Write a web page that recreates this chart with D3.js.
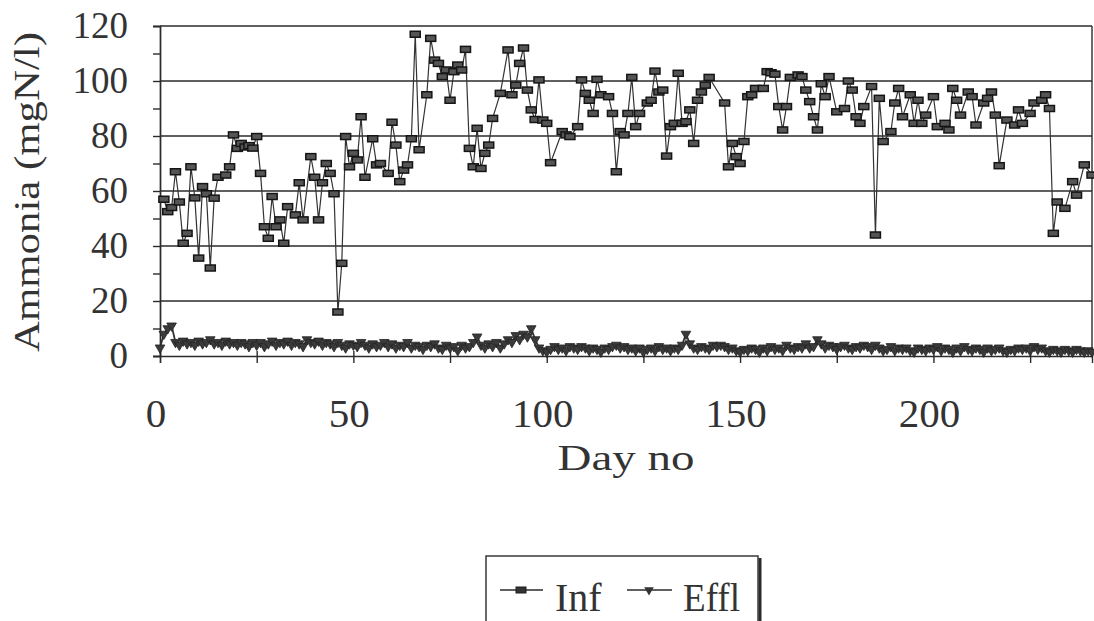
<!DOCTYPE html>
<html>
<head>
<meta charset="utf-8">
<script src="https://cdn.jsdelivr.net/npm/d3@7"></script>
<style>
  body { margin: 0; background: #fff; }
  svg { display: block; }
  text { font-family: "Liberation Serif", "Times New Roman", serif; fill: #333; }
</style>
</head>
<body>
<svg id="chart" width="1094" height="621"></svg>
<script>
// Influent ammonia (day, mgN/l)
const infDay = [1, 2, 3, 4, 5, 6, 7, 8, 9, 10, 11, 12, 13, 14, 15, 17, 18, 19, 20, 21, 22, 23, 24, 25,
  26, 27, 28, 29, 30, 31, 32, 33, 35, 36, 37, 39, 40, 41, 42, 43, 44, 45, 46, 47, 48, 49, 50, 51, 52,
  53, 55, 56, 57, 59, 60, 61, 62, 63, 64, 65, 66, 67, 69, 70, 71, 72, 73, 74, 75, 76, 77, 78, 79, 80,
  81, 82, 83, 84, 85, 86, 88, 90, 91, 92, 93, 94, 95, 96, 97, 98, 99, 100, 101, 104, 105, 106, 108,
  109, 110, 111, 112, 113, 114, 116, 117, 118, 119, 120, 121, 122, 123, 124, 126, 127, 128, 129, 130,
  131, 132, 133, 134, 135, 136, 137, 138, 139, 140, 141, 142, 146, 147, 148, 149, 150, 151, 152, 153,
  154, 156, 157, 158, 159, 160, 161, 162, 163, 165, 166, 167, 168, 169, 170, 171, 172, 173, 175, 177,
  178, 179, 180, 181, 182, 184, 185, 186, 187, 189, 190, 191, 192, 194, 195, 196, 197, 198, 200, 201,
  203, 204, 205, 206, 207, 209, 210, 211, 213, 214, 215, 216, 217, 219, 221, 222, 223, 225, 226, 228,
  229, 230, 231, 232, 234, 236, 237, 239, 241];
const infVal = [57, 52.5, 54, 67, 56, 41, 44.6, 68.8, 57.5, 35.6, 61.6, 59, 32, 57.4, 65, 65.8, 68.8, 80.4,
  75.5, 77.3, 76, 76.5, 75.6, 79.8, 66.4, 47, 42.8, 58, 47, 49.5, 41, 54.3, 51.3, 63, 49.5, 72.5, 65,
  49.5, 63, 70, 66.4, 59, 16, 33.7, 79.8, 68.8, 73.7, 71.3, 87, 65, 79, 69.5, 70, 66.4, 85, 76.7, 63.4,
  67.6, 69.5, 79, 117, 75, 95, 115.5, 107.6, 106.4, 101.6, 104, 93, 103.4, 105.8, 104, 111.5, 75.5,
  68.8, 82.8, 68.2, 73.7, 76.7, 86.4, 95.5, 111.3, 95, 98.5, 106.4, 112, 96.7, 89.5, 86, 100.4, 85.8,
  84.6, 70.3, 81.6, 80.4, 79.8, 83.4, 100.4, 95.5, 93, 88.2, 100.6, 95, 94.3, 88.2, 67, 81.6, 80.4,
  88.2, 101.3, 83.4, 88.2, 92, 93, 103.6, 96, 96.7, 72.7, 83.4, 84.6, 102.8, 84.6, 85.2, 89.5, 77.3, 93,
  96, 98.5, 101.3, 92, 68.8, 77.3, 72.5, 70, 78, 94.3, 95, 97.3, 97.3, 103.4, 103, 102.5, 90.7, 82.2,
  90.7, 101.3, 102.2, 101.6, 96.7, 92.5, 87, 82.2, 99, 94.3, 101.6, 88.8, 90, 100, 96.7, 87, 84.6, 90.7,
  98, 44, 93.7, 78, 81.6, 92, 97.3, 87, 95, 84.6, 93, 84.6, 87.6, 94.3, 83.4, 84.6, 82.2, 97.3, 93, 87.6,
  96, 94.3, 84, 92, 93.7, 96, 87.6, 69.2, 85.8, 84, 89.5, 84.6, 88.2, 92, 93, 95, 90, 44.6, 56, 53.7,
  63.4, 58.5, 69.5, 65.8, 64];

// Effluent ammonia, one reading per day from day 0 to day 241 (mgN/l)
const efflVal = [
  3, 8, 10, 11, 5, 4, 5.5, 4.5, 5, 4,
  5.5, 4.5, 5, 6, 4.5, 5, 4, 5.5, 4.5, 5,
  4, 5, 4.5, 3.5, 5, 4, 5, 3.5, 4.5, 5.5,
  4, 5, 4.5, 5.5, 4, 5, 4.5, 3.5, 6, 5,
  4.5, 5.5, 4, 5, 4.5, 3.5, 5, 4, 3, 4.5,
  4, 3.5, 5, 4, 3, 4.5, 3.5, 4, 5, 3.5,
  4.5, 3, 4, 3.5, 5, 3, 4, 3.5, 2.5, 4,
  3.5, 4.5, 3, 2.5, 4, 3, 3.5, 2, 4, 3,
  3.5, 5, 7, 4, 3, 4.5, 3.5, 5, 3, 4.5,
  6, 5, 7.5, 6, 8, 7, 10, 6, 3, 2,
  1.5, 2.5, 3.5, 2.5, 3, 2, 3.5, 3, 2.5, 3.5,
  3, 2, 3, 2.5, 1.5, 3, 2.5, 3.5, 4, 3,
  3.5, 2.5, 3, 2, 3, 1.5, 2.5, 3, 2, 3.5,
  2.5, 3, 2, 3, 2.5, 4, 8, 4.5, 3, 2.5,
  3.5, 3, 2.5, 4, 3.5, 4, 3.5, 2.5, 3, 2,
  1.5, 2.5, 2, 3, 2.5, 1.5, 3, 2, 3.5, 2.5,
  3, 2, 4, 3, 2.5, 3.5, 3, 4.5, 3, 3.5,
  6, 4.5, 3, 4, 3.5, 2.5, 3.5, 4, 3, 2.5,
  3.5, 3, 4, 3.5, 2.5, 4, 3, 2, 2.5, 3.5,
  2, 3, 2.5, 3, 2, 1.5, 3, 2.5, 2, 3,
  2.5, 3.5, 2, 3, 2.5, 1.5, 3, 2, 3.5, 2.5,
  2, 3, 2.5, 1.5, 3, 2, 2.5, 3, 2, 1.5,
  2.5, 2, 3, 2.5, 3, 2, 3.5, 2.5, 3, 2,
  1.5, 2.5, 2, 1.5, 2.5, 2, 1.5, 2.5, 2, 1.5,
  2, 1.5];
const efflDay = d3.range(0, efflVal.length);

const yTicks = [0, 20, 40, 60, 80, 100, 120];
const yMinor = [10, 30, 50, 70, 90, 110];
const xTicks = [0, 50, 100, 150, 200];
const xMinor = [25, 75, 125, 175, 225];

const inf = infDay.map((d, i) => ({ day: d, v: infVal[i] }));
const effl = efflDay.map((d, i) => ({ day: d, v: efflVal[i] }));

const svg = d3.select("#chart");
const plotL = 160, plotR = 1092, plotT = 26, plotB = 356;
const x = d3.scaleLinear().domain([0, 241]).range([plotL, plotR]);
const y = d3.scaleLinear().domain([0, 120]).range([plotB, plotT]);
const ink = "#2b2b2b";

// gridlines
svg.append("g").selectAll("line")
  .data(yTicks.slice(1))
  .join("line")
  .attr("x1", plotL).attr("x2", plotR)
  .attr("y1", d => y(d)).attr("y2", d => y(d))
  .attr("stroke", ink).attr("stroke-width", 1.4);

// right border
svg.append("line")
  .attr("x1", plotR).attr("x2", plotR).attr("y1", plotT).attr("y2", plotB)
  .attr("stroke", ink).attr("stroke-width", 1.4);

// y axis
const yAxis = svg.append("g")
  .attr("transform", `translate(${plotL},0)`)
  .call(d3.axisLeft(y).tickValues(yTicks).tickSize(7).tickPadding(25));
yAxis.selectAll("text").style("font-size", "37px").attr("fill", "#333");
svg.append("g")
  .attr("transform", `translate(${plotL},0)`)
  .call(d3.axisLeft(y).tickValues(yMinor).tickSize(7).tickFormat(""));

// x axis
const xAxis = svg.append("g")
  .attr("transform", `translate(0,${plotB})`)
  .call(d3.axisBottom(x).tickValues(xTicks.concat(xMinor)).tickSize(7).tickFormat(""));
xAxis.selectAll(".tick line").attr("y1", -5);

svg.selectAll(".domain, .tick line").attr("stroke", ink).attr("stroke-width", 1.4);

svg.append("g").selectAll("text")
  .data(xTicks)
  .join("text")
  .attr("x", d => x(d) - 4)
  .attr("y", 427)
  .attr("text-anchor", "middle")
  .style("font-size", "41px")
  .text(d => d);

svg.append("text")
  .attr("x", (plotL + plotR) / 2)
  .attr("y", 470)
  .attr("text-anchor", "middle")
  .attr("textLength", 137)
  .attr("lengthAdjust", "spacingAndGlyphs")
  .style("font-size", "36px")
  .text("Day no");

svg.append("text")
  .attr("transform", "translate(39,192) rotate(-90)")
  .attr("text-anchor", "middle")
  .attr("textLength", 320)
  .attr("lengthAdjust", "spacingAndGlyphs")
  .style("font-size", "35px")
  .text("Ammonia (mgN/l)");

// series
const line = d3.line().x(d => x(d.day)).y(d => y(d.v));

svg.append("path").datum(effl)
  .attr("d", line).attr("fill", "none")
  .attr("stroke", "#333").attr("stroke-width", 1.8);
const tri = d3.symbol().type(d3.symbolTriangle).size(40);
svg.append("g").selectAll("path")
  .data(effl)
  .join("path")
  .attr("d", tri)
  .attr("transform", d => `translate(${x(d.day)},${y(d.v)}) rotate(180)`)
  .attr("fill", "#3a3a3a").attr("stroke", "#222").attr("stroke-width", 0.8);

svg.append("path").datum(inf)
  .attr("d", line).attr("fill", "none")
  .attr("stroke", "#333").attr("stroke-width", 1.2);
svg.append("g").selectAll("rect")
  .data(inf)
  .join("rect")
  .attr("x", d => x(d.day) - 5).attr("y", d => y(d.v) - 3)
  .attr("width", 10).attr("height", 6)
  .attr("fill", "#555").attr("stroke", "#151515").attr("stroke-width", 1.5);

// legend
const lg = svg.append("g");
lg.append("rect")
  .attr("x", 486).attr("y", 556).attr("width", 272).attr("height", 80)
  .attr("fill", "#fff").attr("stroke", ink).attr("stroke-width", 1.4);
lg.append("line")
  .attr("x1", 760).attr("x2", 760).attr("y1", 558).attr("y2", 621)
  .attr("stroke", ink).attr("stroke-width", 3);
lg.append("line").attr("x1", 500).attr("x2", 543).attr("y1", 590).attr("y2", 590)
  .attr("stroke", ink).attr("stroke-width", 1.6);
lg.append("rect").attr("x", 516).attr("y", 587).attr("width", 10).attr("height", 6)
  .attr("fill", "#333").attr("stroke", "#1e1e1e");
lg.append("text").attr("x", 555).attr("y", 611).style("font-size", "40px").text("Inf");
lg.append("line").attr("x1", 627).attr("x2", 672).attr("y1", 590).attr("y2", 590)
  .attr("stroke", ink).attr("stroke-width", 1.6);
lg.append("path").attr("d", tri)
  .attr("transform", "translate(649,590) rotate(180)")
  .attr("fill", "#333");
lg.append("text").attr("x", 683).attr("y", 611)
  .attr("textLength", 57).attr("lengthAdjust", "spacingAndGlyphs")
  .style("font-size", "40px").text("Effl");
</script>
</body>
</html>
